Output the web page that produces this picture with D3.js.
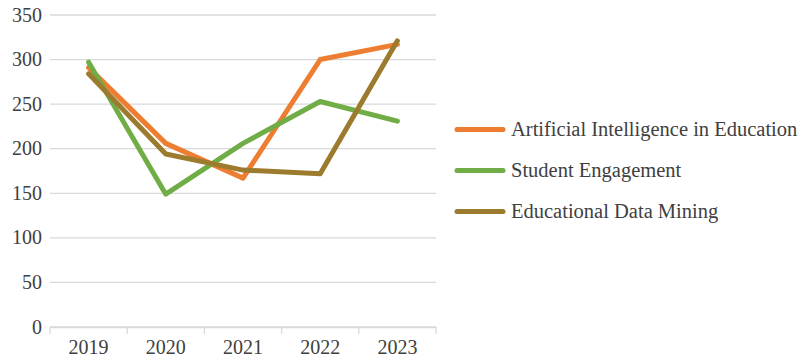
<!DOCTYPE html>
<html>
<head>
<meta charset="utf-8">
<script src="https://cdn.jsdelivr.net/npm/d3@7"></script>
<style>
  body { margin: 0; background: #fff; }
  svg text { font-family: "Liberation Serif", serif; fill: #404040; }
</style>
</head>
<body>
<div id="chart"></div>
<script>
// Chart data
const years = ["2019", "2020", "2021", "2022", "2023"];
const seriesNames = ["Artificial Intelligence in Education", "Student Engagement", "Educational Data Mining"];
const aiEducation = [291, 206, 167, 300, 317];
const studentEngagement = [297, 149, 206, 253, 231];
const dataMining = [284, 194, 176, 172, 321];
const yTicks = [0, 50, 100, 150, 200, 250, 300, 350];
const colors = ["#ED7D31", "#70AD47", "#9C7A2E"];

const allSeries = [aiEducation, studentEngagement, dataMining];

const width = 803, height = 364;
const margin = { top: 15, right: 367, bottom: 37, left: 50 };

const svg = d3.select("#chart").append("svg")
    .attr("width", width)
    .attr("height", height);

const x = d3.scaleBand()
    .domain(years)
    .range([margin.left, width - margin.right])
    .padding(0);

const y = d3.scaleLinear()
    .domain([0, 350])
    .range([height - margin.bottom, margin.top]);

// gridlines
svg.append("g")
    .selectAll("line")
    .data(yTicks)
    .enter().append("line")
    .attr("x1", margin.left)
    .attr("x2", width - margin.right)
    .attr("y1", d => y(d))
    .attr("y2", d => y(d))
    .attr("stroke", "#D9D9D9")
    .attr("stroke-width", 1.3);

// y labels
svg.append("g")
    .selectAll("text")
    .data(yTicks)
    .enter().append("text")
    .attr("x", margin.left - 8)
    .attr("y", d => y(d))
    .attr("dy", "0.33em")
    .attr("text-anchor", "end")
    .attr("font-size", 20)
    .text(d => d);

// x axis, tick marks sit between categories
const xAxis = svg.append("g")
    .attr("transform", `translate(0,${y(0)})`)
    .call(d3.axisBottom(x).tickSize(0).tickPadding(13));
xAxis.select(".domain").attr("stroke", "#D9D9D9").attr("stroke-width", 1.3);
xAxis.selectAll("text").attr("font-size", 20).attr("fill", "#404040")
    .style("font-family", '"Liberation Serif", serif');

const edges = years.map(d => x(d)).concat([x(years[years.length - 1]) + x.bandwidth()]);
svg.append("g")
    .selectAll("line")
    .data(edges)
    .enter().append("line")
    .attr("x1", d => d)
    .attr("x2", d => d)
    .attr("y1", y(0))
    .attr("y2", y(0) + 7)
    .attr("stroke", "#D9D9D9")
    .attr("stroke-width", 1.3);

// lines
const line = d3.line()
    .x((d, i) => x(years[i]) + x.bandwidth() / 2)
    .y(d => y(d));

svg.append("g")
    .selectAll("path")
    .data(allSeries)
    .enter().append("path")
    .attr("d", line)
    .attr("fill", "none")
    .attr("stroke", (d, i) => colors[i])
    .attr("stroke-width", 5)
    .attr("stroke-linejoin", "round")
    .attr("stroke-linecap", "round");

// legend
const legend = svg.append("g")
    .selectAll("g")
    .data(seriesNames)
    .enter().append("g")
    .attr("transform", (d, i) => `translate(457,${129.5 + i * 41})`);

legend.append("line")
    .attr("x1", 0)
    .attr("x2", 46)
    .attr("stroke", (d, i) => colors[i])
    .attr("stroke-width", 5)
    .attr("stroke-linecap", "round");

legend.append("text")
    .attr("x", 54)
    .attr("dy", "0.33em")
    .attr("font-size", 20.5)
    .text(d => d);
</script>
</body>
</html>
